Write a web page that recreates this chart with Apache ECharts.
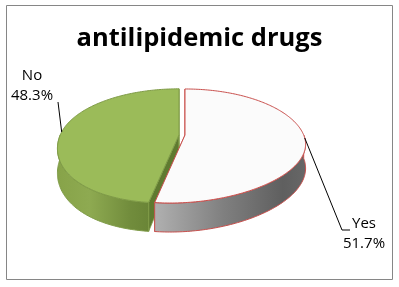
<!DOCTYPE html>
<html><head><meta charset="utf-8">
<script src="https://cdn.jsdelivr.net/npm/echarts@6/dist/echarts.min.js"></script>
<style>html,body{margin:0;padding:0;background:#fff}#c{width:399px;height:287px}</style>
</head><body><div id="c"></div>
<script>
const titleText = 'antilipidemic drugs';
const categories = ['Yes', 'No'];
const values = [51.7, 48.3];
const explode = [0, 6];

// styles
const topColors = ['#fbfbfb', '#9bbb59'];
const edgeColors = ['#c9504d', '#7f9b47'];
const sideStops = [
  [[0, '#b0b0b0'], [0.45, '#808080'], [0.85, '#5f5f5f'], [1, '#676767']],
  [[0, '#87a349'], [0.35, '#8eaa51'], [0.8, '#718c3c'], [1, '#6a8537']]
];
const wallColors = ['#6a6a6a', '#5f7a30'];
const labelLayout = [
  { elbow: [342, 230], end: [350, 230], text: [364, 214] },
  { elbow: [58, 102], end: null, text: [32, 66] }
];
const FONT = '"Open Sans", "Liberation Sans", sans-serif';

// projection geometry
const CX = 185, CY = 135, A = 118.7, B = 54.9, P = 0.193, SH = 12, D0 = 23.4;
function proj(th, r, h, off) {
  const c = Math.cos(th) * r, s = Math.sin(th) * r;
  const k = 1 / (1 + P * c);
  const sh = c < 0 ? -SH * c * c : 0;
  return [CX + off[0] + (A * s + sh) * k, CY + off[1] - B * c * k + h * D0 * k];
}

const total = values.reduce((a, b) => a + b, 0);
const starts = [];
let acc = 0;
values.forEach(v => { starts.push(acc / total * Math.PI * 2); acc += v; });

function arcPts(a1, a2, h, off) {
  const pts = [];
  const n = Math.max(2, Math.ceil((a2 - a1) / (Math.PI / 180)));
  for (let j = 0; j <= n; j++) pts.push(proj(a1 + (a2 - a1) * j / n, 1, h, off));
  return pts;
}

function renderItem(params, api) {
  const i = params.dataIndex;
  const v = api.value(0);
  const a1 = starts[i], a2 = a1 + v / total * Math.PI * 2;
  const mid = (a1 + a2) / 2;
  const off = [explode[i] * Math.sin(mid), -explode[i] * Math.cos(mid) * B / A];
  const ch = [];
  [a1, a2].forEach(phi => {
    ch.push({ type: 'polygon', z2: 1,
      shape: { points: [proj(phi, 0, 0, off), proj(phi, 1, 0, off), proj(phi, 1, 1, off), proj(phi, 0, 1, off)] },
      style: { fill: wallColors[i], stroke: edgeColors[i], lineWidth: 0.8 } });
  });
  const lo = Math.max(a1, Math.PI / 2), hi = Math.min(a2, Math.PI * 1.5);
  if (hi > lo) {
    const topR = arcPts(lo, hi, 0, off);
    const botR = arcPts(lo, hi, 1, off).reverse();
    const xs = topR.map(p => p[0]);
    const x0 = Math.min(...xs), x1 = Math.max(...xs);
    ch.push({ type: 'polygon', z2: 2,
      shape: { points: topR.concat(botR) },
      style: { fill: { type: 'linear', x: x0, y: 0, x2: x1, y2: 0, global: true,
        colorStops: sideStops[i].map(s => ({ offset: s[0], color: s[1] })) },
        stroke: edgeColors[i], lineWidth: 1 } });
  }
  ch.push({ type: 'polygon', z2: 3,
    shape: { points: [proj(0, 0, 0, off)].concat(arcPts(a1, a2, 0, off)) },
    style: { fill: topColors[i], stroke: edgeColors[i], lineWidth: 1 } });
  const L = labelLayout[i];
  const lp = [proj(mid, 1, 0, off), L.elbow];
  if (L.end) lp.push(L.end);
  ch.push({ type: 'polyline', z2: 4, shape: { points: lp }, style: { stroke: '#000', lineWidth: 1, fill: null } });
  ch.push({ type: 'text', z2: 5, style: {
    text: categories[i] + '\n' + v.toFixed(1) + '%', x: L.text[0], y: L.text[1],
    align: 'center', verticalAlign: 'top', font: '15px ' + FONT, lineHeight: 20, fill: '#000' } });
  return { type: 'group', children: ch };
}

const chart = echarts.init(document.getElementById('c'), null, { renderer: 'canvas' });
chart.setOption({
  backgroundColor: '#fff',
  animation: false,
  title: { text: titleText, left: 'center', top: 21,
    textStyle: { fontFamily: FONT, fontWeight: 'bold', fontSize: 25.5, color: '#000' } },
  graphic: [{ type: 'rect', shape: { x: 6.5, y: 5.5, width: 386, height: 274 },
    style: { fill: null, stroke: '#868686', lineWidth: 1 }, silent: true }],
  series: [{ type: 'custom', coordinateSystem: 'none', renderItem: renderItem,
    data: values.map(v => [v]) }]
});
</script></body></html>
